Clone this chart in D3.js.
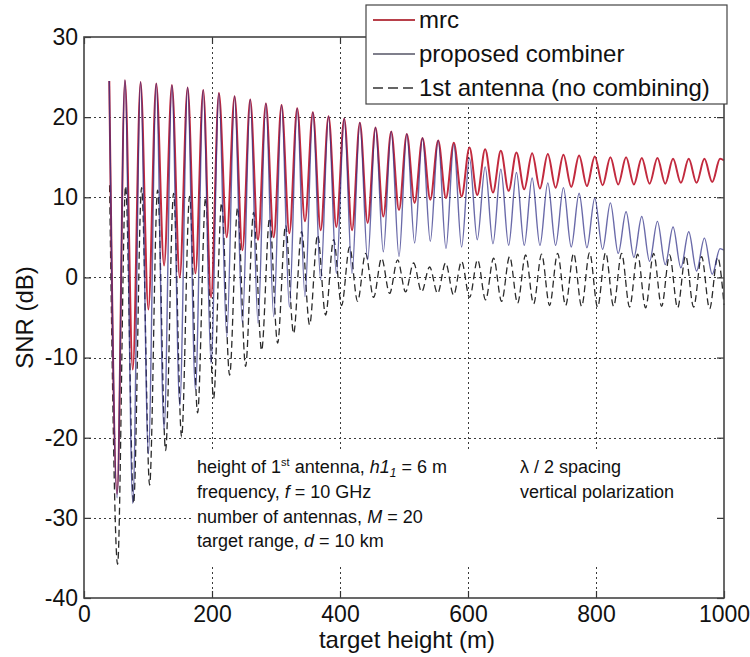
<!DOCTYPE html>
<html>
<head>
<meta charset="utf-8">
<script src="https://cdn.jsdelivr.net/npm/d3@7"></script>
<style>
  html, body { margin: 0; padding: 0; background: #fff; }
  svg { display: block; font-family: "Liberation Sans", Arial, Helvetica, sans-serif; }
</style>
</head>
<body>
<svg id="chart" width="750" height="657"></svg>
<script>
// ---- data: SNR (dB) versus target height (m) ----
// Heights of the local maxima / minima of the combined (array) curves
const arrayPeakHeights = [39.5, 64.0, 88.4, 112.9, 137.4, 161.9, 186.3, 210.8, 235.3, 259.7,
  284.2, 308.7, 333.1, 357.6, 382.1, 406.6, 431.0, 455.5, 480.0, 504.4,
  528.9, 553.4, 577.8, 602.3, 626.8, 651.3, 675.7, 700.2, 724.7, 749.1,
  773.6, 798.1, 822.5, 847.0, 871.5, 896.0, 920.4, 944.9, 969.4, 993.8];
const arrayTroughHeights = [51.7, 76.2, 100.6, 125.1, 149.6, 174.1, 198.5, 223.0, 247.5, 271.9,
  296.4, 320.9, 345.3, 369.8, 394.3, 418.8, 443.2, 467.7, 492.2, 516.6,
  541.1, 565.6, 590.0, 614.5, 639.0, 663.5, 687.9, 712.4, 736.9, 761.3,
  785.8, 810.3, 834.7, 859.2, 883.7, 908.2, 932.6, 957.1, 981.6];

// mrc
const mrcPeaks = [24.5, 24.6, 24.4, 24.2, 24.0, 23.7, 23.4, 23.0, 22.6, 22.2,
  21.7, 21.5, 21.1, 20.6, 20.1, 19.8, 19.3, 18.7, 18.2, 17.9,
  17.4, 17.1, 16.8, 16.2, 16.0, 15.8, 15.6, 15.5, 15.4, 15.3,
  15.2, 15.1, 15.0, 15.0, 14.9, 14.9, 14.8, 14.8, 14.8, 14.8];
const mrcTroughs = [-27.0, -11.5, -4.0, 1.5, 0.0, 0.5, -2.5, 5.0, 3.4, 4.7,
  5.0, 5.5, 7.0, 5.9, 6.3, 5.9, 6.8, 7.6, 8.4, 9.3,
  9.7, 9.9, 10.1, 10.3, 10.6, 10.8, 11.0, 11.1, 11.2, 11.3,
  11.4, 11.5, 11.6, 11.6, 11.7, 11.7, 11.8, 11.8, 11.9];
const mrcEnd = 14.6;

// proposed combiner
const combinerPeaks = [24.5, 24.6, 24.4, 24.2, 24.0, 23.7, 23.4, 23.0, 22.6, 22.2,
  21.7, 21.5, 21.1, 20.6, 20.1, 19.8, 19.3, 18.7, 18.2, 17.9,
  17.4, 17.1, 16.6, 14.9, 13.8, 13.5, 13.1, 12.4, 11.8, 11.2,
  10.5, 9.9, 9.3, 8.2, 7.6, 7.0, 6.3, 5.7, 4.9, 3.6];
const combinerTroughs = [-27.5, -28.2, -22.0, -19.0, -16.0, -14.0, -10.7, -7.4, -5.7, -5.7,
  -4.9, -3.7, -2.4, -0.3, 0.5, 0.5, 2.2, 3.2, 2.6, 4.3,
  4.5, 3.6, 3.8, 4.7, 4.2, 4.0, 4.0, 4.0, 4.0, 3.8,
  3.7, 3.5, 3.0, 2.5, 2.0, 1.6, 1.2, 0.8, 0.4];
const combinerEnd = 3.4;

// 1st antenna (no combining)
const antennaPeakHeights = [40, 65, 90, 115, 140, 165, 190, 215, 240, 265,
  290, 315, 340, 365, 390, 415, 440, 465, 490, 515,
  540, 565, 590, 615, 640, 665, 690, 715, 740, 765,
  790, 815, 840, 865, 890, 915, 940, 965, 990];
const antennaTroughHeights = [52.5, 77.5, 102.5, 127.5, 152.5, 177.5, 202.5, 227.5, 252.5, 277.5,
  302.5, 327.5, 352.5, 377.5, 402.5, 427.5, 452.5, 477.5, 502.5, 527.5,
  552.5, 577.5, 602.5, 627.5, 652.5, 677.5, 702.5, 727.5, 752.5, 777.5,
  802.5, 827.5, 852.5, 877.5, 902.5, 927.5, 952.5, 977.5];
const antennaPeaks = [11.5, 11.4, 11.2, 10.9, 10.5, 10.1, 9.9, 9.3, 8.7, 8.1,
  7.4, 6.5, 5.7, 5.3, 4.7, 3.8, 3.0, 2.4, 2.2, 1.8,
  1.3, 1.8, 2.0, 2.2, 2.4, 2.6, 2.8, 2.9, 3.0, 3.0,
  3.1, 3.1, 3.0, 2.9, 3.0, 2.8, 2.7, 2.6, 2.5];
const antennaTroughs = [-35.8, -28.2, -25.9, -21.6, -19.9, -16.9, -15.1, -12.2, -11.1, -9.1,
  -8.2, -7.0, -5.9, -4.7, -3.5, -3.0, -2.5, -2.0, -1.8, -1.8,
  -2.0, -2.2, -2.5, -2.8, -3.0, -3.2, -3.3, -3.5, -3.5, -3.6,
  -3.7, -3.6, -3.7, -3.8, -3.6, -3.8, -3.7, -3.9];
const antennaEnd = -3.4;

const endHeight = 1000;

// axes
const xTicks = [0, 200, 400, 600, 800, 1000];
const yTicks = [-40, -30, -20, -10, 0, 10, 20, 30];
const xLabel = "target height (m)";
const yLabel = "SNR (dB)";
const seriesNames = ["mrc", "proposed combiner", "1st antenna (no combining)"];

// ---- drawing ----
const svg = d3.select("#chart");
const plot = { left: 84, right: 724, top: 37, bottom: 598 };

const x = d3.scaleLinear().domain([0, 1000]).range([plot.left, plot.right]);
const y = d3.scaleLinear().domain([-40, 30]).range([plot.bottom, plot.top]);

// alternate maxima and minima into one ordered point list
function weave(peakX, peakV, troughX, troughV, endV) {
  const pts = [];
  peakX.forEach((h, i) => {
    pts.push([h, peakV[i]]);
    if (i < troughX.length) pts.push([troughX[i], troughV[i]]);
  });
  pts.push([endHeight, endV]);
  return pts;
}

const mrcPts = weave(arrayPeakHeights, mrcPeaks, arrayTroughHeights, mrcTroughs, mrcEnd);
const combinerPts = weave(arrayPeakHeights, combinerPeaks, arrayTroughHeights, combinerTroughs, combinerEnd);
const antennaPts = weave(antennaPeakHeights, antennaPeaks, antennaTroughHeights, antennaTroughs, antennaEnd);

const line = d3.line()
  .x(d => x(d[0]))
  .y(d => y(d[1]))
  .curve(d3.curveMonotoneX);

// grid
const grid = svg.append("g").attr("stroke", "#3a3a3a").attr("stroke-width", 1)
  .attr("stroke-dasharray", "2,3").attr("fill", "none");
grid.selectAll("line.v").data(xTicks.filter(t => t > 0 && t < 1000)).join("line")
  .attr("class", "v")
  .attr("x1", d => Math.round(x(d)) + 0.5).attr("x2", d => Math.round(x(d)) + 0.5)
  .attr("y1", plot.top).attr("y2", plot.bottom);
grid.selectAll("line.h").data(yTicks.filter(t => t > -40 && t < 30)).join("line")
  .attr("class", "h")
  .attr("y1", d => Math.round(y(d)) + 0.5).attr("y2", d => Math.round(y(d)) + 0.5)
  .attr("x1", plot.left).attr("x2", plot.right);

// curves
svg.append("path").datum(antennaPts)
  .attr("d", line).attr("fill", "none")
  .attr("stroke", "#2a2a2a").attr("stroke-width", 1.3)
  .attr("stroke-dasharray", "7,4");
svg.append("path").datum(mrcPts)
  .attr("d", line).attr("fill", "none")
  .attr("stroke", "#c22a3e").attr("stroke-width", 2);
svg.append("path").datum(combinerPts)
  .attr("d", line).attr("fill", "none")
  .attr("stroke", "#303088").attr("stroke-opacity", 0.72).attr("stroke-width", 1.4);

// parameter notes
svg.append("rect")
  .attr("x", 193).attr("y", 449).attr("width", 528).attr("height", 117)
  .attr("fill", "#fff");

const notes = svg.append("g").attr("font-size", 18).attr("fill", "#111");
const noteX = 197, noteX2 = 520;
const rowY = [473, 498, 523, 547];

let t = notes.append("text").attr("x", noteX).attr("y", rowY[0]);
t.append("tspan").text("height of 1");
t.append("tspan").attr("font-size", 11).attr("dy", -7).text("st");
t.append("tspan").attr("dy", 7).text(" antenna, ");
t.append("tspan").attr("font-style", "italic").text("h1");
t.append("tspan").attr("font-style", "italic").attr("font-size", 12).attr("dy", 4).text("1");
t.append("tspan").attr("dy", -4).text(" = 6 m");

t = notes.append("text").attr("x", noteX).attr("y", rowY[1]);
t.append("tspan").text("frequency, ");
t.append("tspan").attr("font-style", "italic").text("f");
t.append("tspan").text(" = 10 GHz");

t = notes.append("text").attr("x", noteX).attr("y", rowY[2]);
t.append("tspan").text("number of antennas, ");
t.append("tspan").attr("font-style", "italic").text("M");
t.append("tspan").text(" = 20");

t = notes.append("text").attr("x", noteX).attr("y", rowY[3]);
t.append("tspan").text("target range, ");
t.append("tspan").attr("font-style", "italic").text("d");
t.append("tspan").text(" = 10 km");

notes.append("text").attr("x", noteX2).attr("y", rowY[0]).text("\u03BB / 2 spacing");
notes.append("text").attr("x", noteX2).attr("y", rowY[1]).text("vertical polarization");

// axes with inward ticks on all four sides
const tickLen = 7;
const plainNumber = d => String(d);
function styleAxis(g) {
  g.select(".domain").remove();
  g.selectAll(".tick line").attr("stroke", "#333").attr("stroke-width", 1.2);
  g.selectAll(".tick text").attr("fill", "#111").attr("font-size", 23)
    .attr("font-family", "\"Liberation Sans\", Arial, sans-serif");
}
svg.append("g").attr("transform", `translate(0,${plot.bottom})`)
  .call(d3.axisBottom(x).tickValues(xTicks).tickFormat(plainNumber).tickSizeInner(-tickLen).tickSizeOuter(0).tickPadding(8))
  .call(styleAxis);
svg.append("g").attr("transform", `translate(0,${plot.top})`)
  .call(d3.axisTop(x).tickValues(xTicks).tickFormat("").tickSizeInner(-tickLen).tickSizeOuter(0))
  .call(styleAxis);
svg.append("g").attr("transform", `translate(${plot.left},0)`)
  .call(d3.axisLeft(y).tickValues(yTicks).tickFormat(plainNumber).tickSizeInner(-tickLen).tickSizeOuter(0).tickPadding(6))
  .call(styleAxis);
svg.append("g").attr("transform", `translate(${plot.right},0)`)
  .call(d3.axisRight(y).tickValues(yTicks).tickFormat("").tickSizeInner(-tickLen).tickSizeOuter(0))
  .call(styleAxis);

// frame
svg.append("rect")
  .attr("x", plot.left).attr("y", plot.top)
  .attr("width", plot.right - plot.left).attr("height", plot.bottom - plot.top)
  .attr("fill", "none").attr("stroke", "#444").attr("stroke-width", 1.6);

// axis titles
svg.append("text")
  .attr("x", (plot.left + plot.right) / 2 + 3).attr("y", 648)
  .attr("text-anchor", "middle").attr("font-size", 24).attr("fill", "#111")
  .text(xLabel);
svg.append("text")
  .attr("transform", `translate(33,${(plot.top + plot.bottom) / 2}) rotate(-90)`)
  .attr("text-anchor", "middle").attr("font-size", 24).attr("fill", "#111")
  .text(yLabel);

// legend
const legend = svg.append("g");
legend.append("rect")
  .attr("x", 366).attr("y", 5).attr("width", 361).attr("height", 99)
  .attr("fill", "#fff").attr("stroke", "#444").attr("stroke-width", 1.2);
const legendStyles = [
  { stroke: "#b8404a", width: 2, dash: null },
  { stroke: "#555566", width: 1.6, dash: null },
  { stroke: "#333", width: 1.4, dash: "10,5" }
];
const legendRows = [20, 54, 88];
seriesNames.forEach((name, i) => {
  const st = legendStyles[i];
  const ln = legend.append("line")
    .attr("x1", 373).attr("x2", 415)
    .attr("y1", legendRows[i]).attr("y2", legendRows[i])
    .attr("stroke", st.stroke).attr("stroke-width", st.width);
  if (st.dash) ln.attr("stroke-dasharray", st.dash);
  legend.append("text")
    .attr("x", 419).attr("y", legendRows[i]).attr("dy", "0.35em")
    .attr("font-size", 24).attr("fill", "#111")
    .text(name);
});
</script>
</body>
</html>
